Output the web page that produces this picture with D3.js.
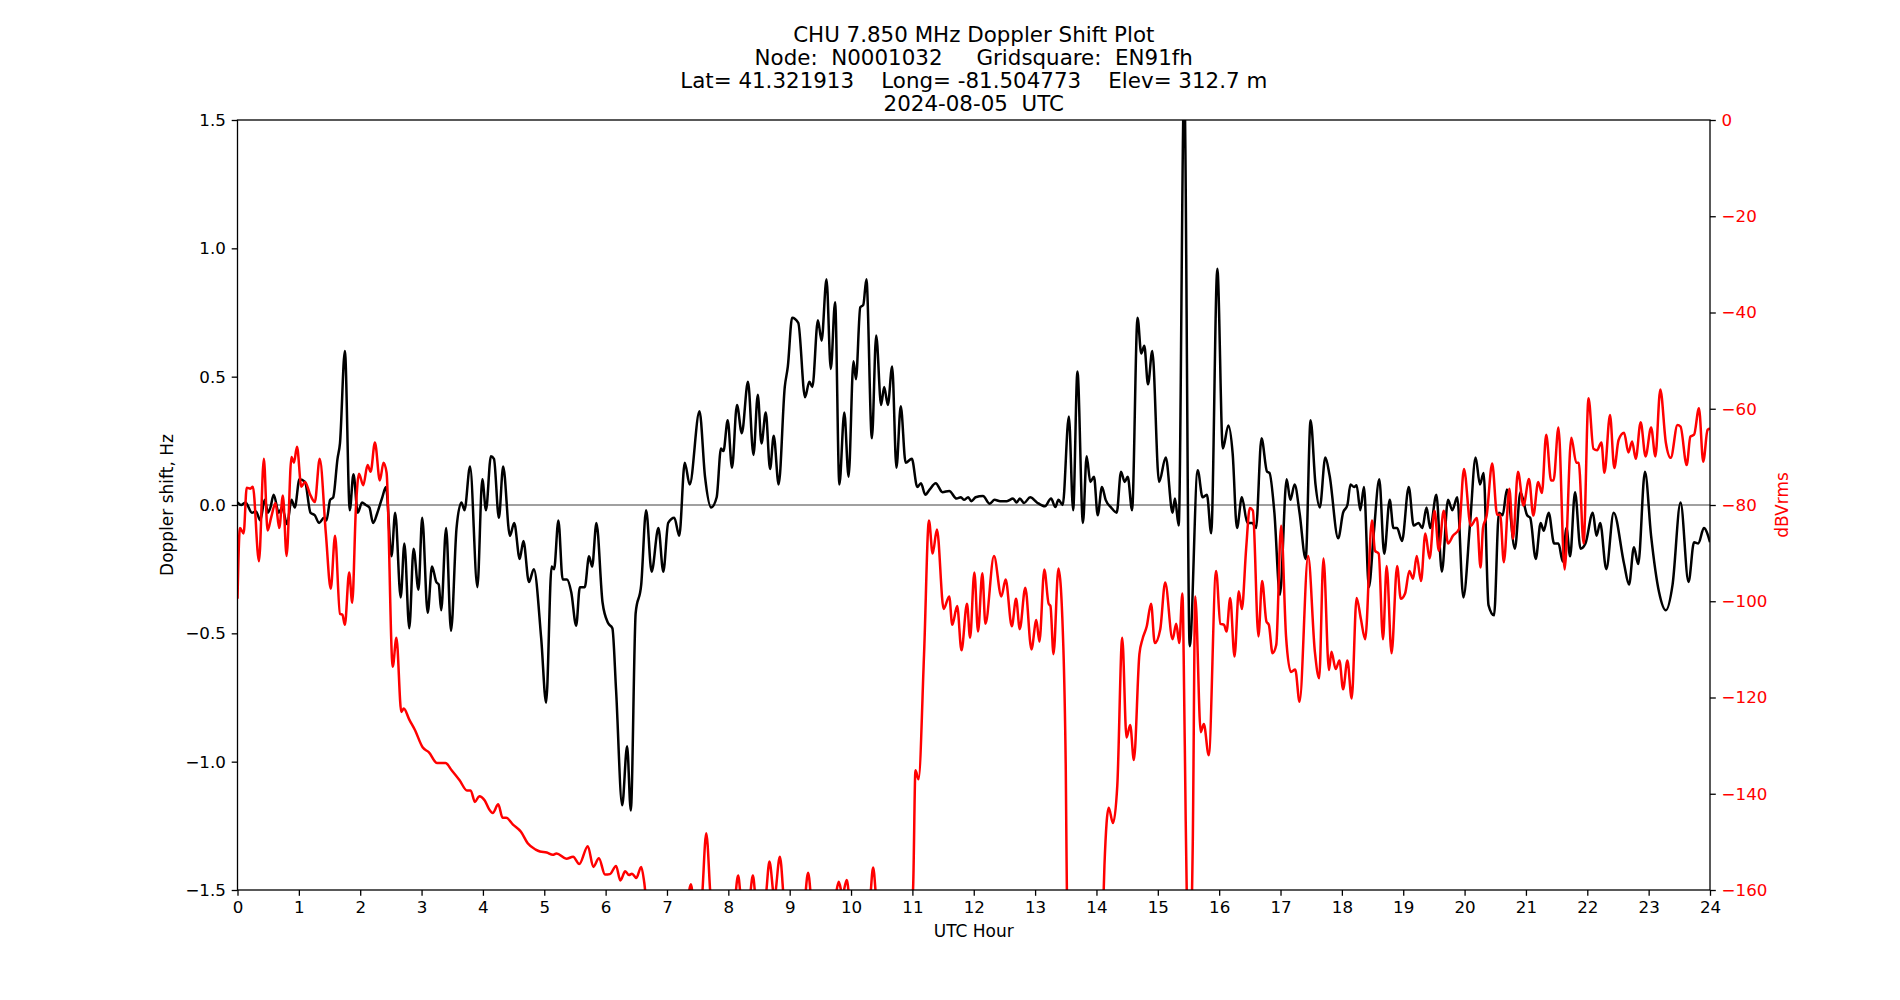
<!DOCTYPE html>
<html>
<head>
<meta charset="utf-8">
<script src="https://cdn.jsdelivr.net/npm/d3@7"></script>
<style>
  body { margin: 0; background: #fff; }
  text { font-family: "DejaVu Sans", sans-serif; }
</style>
</head>
<body>
<div id="chart"></div>
<script>
// title text
var titleLines = [
  "CHU 7.850 MHz Doppler Shift Plot",
  "Node:  N0001032     Gridsquare:  EN91fh",
  "Lat= 41.321913    Long= -81.504773    Elev= 312.7 m",
  "2024-08-05  UTC"
];

var hourTicks = [0,1,2,3,4,5,6,7,8,9,10,11,12,13,14,15,16,17,18,19,20,21,22,23,24];
var hzTicks = [-1.5,-1.0,-0.5,0.0,0.5,1.0,1.5];
var dbTicks = [-160,-140,-120,-100,-80,-60,-40,-20,0];

// [UTC hour, Doppler shift Hz]
var dopplerSeries = [
  [0.00,0.01],[0.06,0.00],[0.13,0.01],[0.235,-0.03],[0.30,-0.025],[0.372,-0.06],[0.443,0.02],[0.497,-0.03],
  [0.536,-0.01],[0.59,0.04],[0.672,-0.03],[0.727,-0.01],[0.809,-0.075],[0.88,0.02],[0.934,-0.01],[1.01,0.10],
  [1.10,0.09],[1.19,-0.03],[1.26,-0.04],[1.33,-0.07],[1.41,-0.05],[1.45,-0.06],[1.51,0.02],[1.56,0.03],
  [1.63,0.18],[1.67,0.24],[1.75,0.60],[1.83,-0.02],[1.89,0.12],[1.96,-0.03],[2.03,0.01],[2.09,0.00],
  [2.15,-0.01],[2.21,-0.07],[2.28,-0.03],[2.36,0.03],[2.42,0.07],[2.51,-0.20],[2.57,-0.03],[2.66,-0.36],
  [2.72,-0.15],[2.80,-0.48],[2.87,-0.17],[2.95,-0.33],[3.01,-0.05],[3.10,-0.42],[3.17,-0.24],[3.24,-0.30],
  [3.28,-0.31],[3.32,-0.41],[3.40,-0.09],[3.48,-0.49],[3.57,-0.09],[3.65,0.01],[3.70,-0.02],[3.79,0.15],
  [3.91,-0.32],[3.99,0.10],[4.05,-0.02],[4.13,0.19],[4.18,0.18],[4.26,-0.05],[4.33,0.15],[4.44,-0.12],
  [4.51,-0.07],[4.60,-0.21],[4.66,-0.14],[4.75,-0.30],[4.83,-0.25],[4.95,-0.52],[5.03,-0.77],[5.12,-0.24],
  [5.16,-0.25],[5.23,-0.06],[5.30,-0.29],[5.37,-0.29],[5.44,-0.34],[5.52,-0.47],[5.58,-0.32],[5.66,-0.32],
  [5.73,-0.20],[5.78,-0.24],[5.85,-0.07],[5.95,-0.38],[6.04,-0.46],[6.11,-0.48],[6.17,-0.72],[6.27,-1.17],
  [6.35,-0.94],[6.41,-1.19],[6.49,-0.42],[6.58,-0.31],[6.66,-0.02],[6.75,-0.26],[6.86,-0.09],[6.94,-0.26],
  [7.02,-0.07],[7.12,-0.05],[7.20,-0.12],[7.29,0.165],[7.37,0.08],[7.53,0.365],[7.62,0.11],[7.72,-0.01],
  [7.81,0.03],[7.88,0.22],[7.92,0.21],[7.99,0.33],[8.06,0.145],[8.14,0.39],[8.22,0.28],[8.32,0.48],
  [8.41,0.195],[8.48,0.43],[8.54,0.24],[8.61,0.36],[8.68,0.14],[8.74,0.27],[8.82,0.08],[8.92,0.46],
  [8.97,0.54],[9.04,0.73],[9.14,0.71],[9.25,0.42],[9.32,0.48],[9.37,0.46],[9.46,0.72],[9.52,0.64],
  [9.60,0.88],[9.67,0.53],[9.74,0.79],[9.81,0.08],[9.89,0.36],[9.96,0.11],[10.04,0.56],[10.08,0.49],
  [10.15,0.77],[10.20,0.78],[10.25,0.88],[10.34,0.26],[10.41,0.66],[10.49,0.39],[10.54,0.46],[10.60,0.39],
  [10.67,0.54],[10.74,0.145],[10.81,0.385],[10.89,0.165],[10.99,0.18],[11.08,0.07],[11.14,0.085],[11.21,0.04],
  [11.28,0.06],[11.38,0.085],[11.49,0.05],[11.60,0.055],[11.72,0.025],[11.79,0.03],[11.84,0.02],[11.91,0.03],
  [11.96,0.015],[12.03,0.03],[12.15,0.035],[12.26,0.005],[12.34,0.02],[12.43,0.015],[12.54,0.015],[12.64,0.025],
  [12.70,0.01],[12.75,0.025],[12.82,0.008],[12.92,0.03],[13.03,0.01],[13.16,-0.005],[13.26,0.025],[13.33,-0.008],
  [13.38,0.02],[13.45,0.00],[13.55,0.345],[13.62,-0.02],[13.69,0.52],[13.78,-0.07],[13.84,0.19],[13.90,0.09],
  [13.96,0.11],[14.02,-0.04],[14.09,0.07],[14.15,0.02],[14.24,-0.01],[14.33,-0.03],[14.40,0.13],[14.46,0.09],
  [14.51,0.11],[14.58,-0.02],[14.67,0.73],[14.73,0.59],[14.78,0.62],[14.84,0.47],[14.91,0.60],[15.02,0.09],
  [15.13,0.185],[15.24,-0.03],[15.28,0.025],[15.34,-0.08],[15.43,1.65],[15.52,-0.55],[15.65,0.135],[15.73,0.03],
  [15.80,0.04],[15.87,-0.11],[15.97,0.92],[16.06,0.22],[16.15,0.31],[16.22,0.20],[16.29,-0.09],[16.37,0.03],
  [16.46,-0.07],[16.54,-0.07],[16.60,-0.09],[16.69,0.26],[16.78,0.13],[16.82,0.125],[16.90,-0.03],[16.99,-0.35],
  [17.10,0.10],[17.16,0.02],[17.23,0.08],[17.31,-0.03],[17.41,-0.21],[17.49,0.33],[17.57,0.08],[17.64,-0.01],
  [17.73,0.185],[17.80,0.115],[17.94,-0.13],[18.02,-0.03],[18.09,0.00],[18.14,0.08],[18.20,0.07],[18.24,0.077],
  [18.30,-0.02],[18.36,0.07],[18.44,-0.32],[18.52,-0.11],[18.61,0.10],[18.69,-0.19],[18.78,0.02],[18.84,-0.09],
  [18.90,-0.09],[18.98,-0.14],[19.09,0.07],[19.17,-0.08],[19.25,-0.07],[19.31,-0.09],[19.38,-0.01],[19.44,-0.09],
  [19.54,0.04],[19.63,-0.26],[19.73,0.02],[19.80,-0.02],[19.88,0.03],[19.98,-0.36],[20.09,-0.07],[20.18,0.185],
  [20.25,0.08],[20.31,0.125],[20.39,-0.39],[20.48,-0.43],[20.56,-0.03],[20.62,-0.04],[20.69,0.06],[20.82,-0.17],
  [20.91,0.05],[21.02,-0.04],[21.07,-0.05],[21.16,-0.21],[21.24,-0.07],[21.29,-0.10],[21.37,-0.03],[21.46,-0.15],
  [21.53,-0.15],[21.60,-0.22],[21.66,-0.09],[21.72,-0.20],[21.80,0.05],[21.89,-0.17],[21.97,-0.15],[22.09,-0.03],
  [22.15,-0.12],[22.21,-0.07],[22.31,-0.25],[22.43,-0.03],[22.60,-0.23],[22.68,-0.31],[22.76,-0.165],[22.83,-0.23],
  [22.94,0.13],[23.04,-0.12],[23.17,-0.34],[23.28,-0.41],[23.39,-0.31],[23.52,0.01],[23.65,-0.30],[23.74,-0.145],
  [23.81,-0.15],[23.90,-0.09],[24.00,-0.145]
];

// [UTC hour, signal level dBVrms]; values under -160 fall off the bottom of the plot
var signalSeries = [
  [0.00,-99.5],[0.04,-84.8],[0.10,-85.9],[0.15,-76.4],[0.21,-76.6],[0.25,-76.2],[0.35,-91.7],[0.43,-70.4],
  [0.49,-85.3],[0.55,-82.5],[0.62,-79.6],[0.68,-84.8],[0.74,-78.0],[0.80,-90.6],[0.88,-70.0],[0.92,-71.2],
  [0.97,-67.9],[1.04,-76.2],[1.10,-75.2],[1.19,-78.0],[1.26,-79.4],[1.34,-70.4],[1.44,-85.9],[1.52,-97.4],
  [1.59,-86.4],[1.67,-102.6],[1.71,-102.8],[1.75,-104.9],[1.82,-94.0],[1.87,-100.3],[1.93,-80.6],[1.98,-73.5],
  [2.05,-75.9],[2.12,-71.7],[2.17,-73.1],[2.24,-67.0],[2.32,-74.9],[2.38,-71.2],[2.43,-73.3],[2.53,-113.6],
  [2.59,-107.6],[2.67,-123.0],[2.71,-122.3],[2.80,-124.6],[2.89,-126.7],[3.02,-130.4],[3.12,-131.4],[3.25,-133.6],
  [3.39,-133.6],[3.49,-135.1],[3.62,-137.2],[3.74,-139.3],[3.80,-139.3],[3.87,-141.7],[3.94,-140.5],[4.03,-141.4],
  [4.10,-143.2],[4.16,-144.0],[4.25,-142.2],[4.32,-145.0],[4.38,-145.0],[4.49,-146.4],[4.62,-147.9],[4.73,-150.3],
  [4.86,-151.6],[4.93,-152.0],[5.04,-152.2],[5.14,-152.7],[5.20,-152.4],[5.36,-153.5],[5.47,-153.1],[5.57,-154.6],
  [5.71,-150.9],[5.80,-155.2],[5.89,-153.4],[5.99,-156.8],[6.07,-156.7],[6.17,-155.0],[6.24,-158.0],[6.32,-156.1],
  [6.38,-156.9],[6.43,-156.6],[6.50,-157.5],[6.58,-155.2],[6.63,-158.5],[6.70,-167],[6.95,-172],[7.30,-166],
  [7.39,-158.8],[7.46,-166],[7.56,-163],[7.64,-148.2],[7.72,-163],[7.90,-172],[8.10,-163],[8.16,-157],
  [8.22,-163],[8.33,-163],[8.40,-157],[8.46,-163],[8.60,-162],[8.67,-154.1],[8.75,-161.5],[8.84,-153.1],
  [8.92,-164],[9.10,-170],[9.24,-163],[9.30,-156.4],[9.37,-164],[9.60,-168],[9.75,-161],[9.80,-158.3],
  [9.86,-161],[9.93,-157.9],[10.00,-165],[10.20,-168],[10.31,-162],[10.36,-155.3],[10.42,-163],[10.70,-172],
  [10.95,-165],[11.01,-160],[11.05,-135.1],[11.10,-137.0],[11.19,-111.0],[11.27,-83.2],[11.33,-90.1],[11.40,-85.1],
  [11.51,-101.6],[11.60,-99.0],[11.65,-104.9],[11.73,-101.0],[11.80,-110.2],[11.89,-100.5],[11.94,-107.6],[12.01,-94.0],
  [12.07,-106.3],[12.14,-94.2],[12.19,-104.7],[12.33,-90.6],[12.45,-99.0],[12.52,-95.5],[12.62,-105.2],[12.69,-99.5],
  [12.75,-105.8],[12.84,-97.2],[12.94,-110.0],[13.02,-103.9],[13.07,-108.4],[13.15,-93.4],[13.22,-100.5],[13.25,-101.0],
  [13.30,-111.0],[13.38,-93.2],[13.46,-109.4],[13.50,-135],[13.53,-175],[13.60,-190],[14.02,-190],[14.09,-172],
  [14.13,-155],[14.20,-142.9],[14.27,-146.1],[14.34,-138.2],[14.42,-107.6],[14.49,-128.3],[14.55,-125.7],[14.61,-133.0],
  [14.70,-111.0],[14.75,-107.9],[14.82,-105.2],[14.89,-100.5],[14.95,-108.7],[15.04,-105.8],[15.12,-96.1],[15.24,-107.9],
  [15.30,-104.7],[15.35,-108.7],[15.40,-98.4],[15.44,-130],[15.48,-168],[15.52,-175],[15.57,-150],[15.61,-99],
  [15.70,-127.2],[15.75,-125.5],[15.83,-132],[15.95,-93.7],[16.02,-104.7],[16.08,-104.9],[16.12,-106.3],[16.18,-99.3],
  [16.25,-111.5],[16.32,-97.9],[16.37,-101.6],[16.44,-89.0],[16.50,-80.6],[16.55,-81.2],[16.64,-107.3],[16.70,-95.8],
  [16.77,-104.2],[16.81,-104.9],[16.87,-110.8],[16.93,-109.1],[17.01,-84.3],[17.09,-107.3],[17.17,-114.7],[17.24,-114.2],
  [17.31,-120.9],[17.45,-90.6],[17.56,-110.5],[17.63,-116.0],[17.70,-91.1],[17.79,-114.3],[17.83,-110.5],[17.90,-114.1],
  [17.96,-112.3],[18.02,-118.3],[18.09,-112.3],[18.16,-120.2],[18.24,-99.3],[18.31,-103.7],[18.38,-107.9],[18.49,-83.2],
  [18.54,-89.5],[18.60,-90.1],[18.67,-107.9],[18.73,-92.7],[18.81,-110.8],[18.90,-92.7],[18.96,-99.5],[19.03,-98.4],
  [19.10,-93.7],[19.16,-95.3],[19.22,-90.6],[19.29,-95.8],[19.36,-85.9],[19.43,-91.1],[19.51,-81.2],[19.58,-89.5],
  [19.66,-81.2],[19.73,-88.0],[19.81,-86.4],[19.91,-85.0],[19.99,-72.5],[20.10,-84.3],[20.20,-82.7],[20.26,-93.0],
  [20.30,-84.8],[20.36,-82.2],[20.45,-71.4],[20.53,-82.0],[20.58,-82.0],[20.64,-91.9],[20.73,-76.6],[20.79,-87.0],
  [20.87,-73.1],[20.96,-80.1],[21.05,-74.6],[21.12,-82.2],[21.20,-75.2],[21.26,-77.5],[21.33,-65.4],[21.41,-74.9],
  [21.45,-74.9],[21.53,-63.9],[21.63,-93.4],[21.74,-66.0],[21.82,-71.2],[21.86,-71.2],[21.94,-88.0],[22.02,-57.8],
  [22.10,-68.3],[22.16,-68.6],[22.23,-67.0],[22.28,-73.3],[22.37,-61.3],[22.44,-72.3],[22.51,-66.5],[22.60,-65.0],
  [22.67,-69.1],[22.73,-66.8],[22.79,-70.4],[22.87,-62.8],[22.95,-69.9],[23.04,-63.9],[23.11,-69.9],[23.19,-56.0],
  [23.28,-67.0],[23.36,-70.2],[23.47,-63.4],[23.52,-63.7],[23.62,-71.7],[23.68,-65.8],[23.74,-65.4],[23.82,-59.9],
  [23.89,-71.0],[23.96,-64.4],[24.00,-64.1]
];

var width = 1900, height = 1000;
var plotLeft = 237.5, plotRight = 1710, plotTop = 120, plotBottom = 890;
var tickFont = 16.7;

var svg = d3.select("#chart").append("svg")
  .attr("width", width)
  .attr("height", height)
  .style("display", "block");

var x = d3.scaleLinear().domain([0, 24]).range([plotLeft, plotRight]);
var yHz = d3.scaleLinear().domain([-1.5, 1.5]).range([plotBottom, plotTop]);
var yDb = d3.scaleLinear().domain([-160, 0]).range([plotBottom, plotTop]);

svg.append("clipPath").attr("id", "plotclip")
  .append("rect")
  .attr("x", plotLeft).attr("y", plotTop)
  .attr("width", plotRight - plotLeft).attr("height", plotBottom - plotTop);

var plot = svg.append("g").attr("clip-path", "url(#plotclip)");

// zero reference line
plot.append("line")
  .attr("x1", plotLeft).attr("x2", plotRight)
  .attr("y1", yHz(0)).attr("y2", yHz(0))
  .style("stroke", "#808080")
  .style("stroke-width", 1.3);

var hzLine = d3.line()
  .x(function(d) { return x(d[0]); })
  .y(function(d) { return yHz(d[1]); })
  .curve(d3.curveMonotoneX);

var dbLine = d3.line()
  .x(function(d) { return x(d[0]); })
  .y(function(d) { return yDb(d[1]); })
  .curve(d3.curveMonotoneX);

plot.append("path")
  .datum(dopplerSeries)
  .attr("d", hzLine)
  .style("fill", "none")
  .style("stroke", "#000")
  .style("stroke-width", 2.5)
  .style("stroke-linejoin", "round");

plot.append("path")
  .datum(signalSeries)
  .attr("d", dbLine)
  .style("fill", "none")
  .style("stroke", "#ff0000")
  .style("stroke-width", 2.5)
  .style("stroke-linejoin", "round");

// axes
function styleAxis(g, color) {
  g.select(".domain").remove();
  g.selectAll(".tick line").style("stroke", "#000").style("stroke-width", 1.3);
  g.selectAll(".tick text")
    .style("font-family", "DejaVu Sans")
    .style("font-size", tickFont + "px")
    .style("fill", color);
}

svg.append("g")
  .attr("transform", "translate(0," + plotBottom + ")")
  .call(d3.axisBottom(x).tickValues(hourTicks).tickFormat(d3.format("d"))
    .tickSize(5.8).tickPadding(5.8))
  .call(styleAxis, "#000");

svg.append("g")
  .attr("transform", "translate(" + plotLeft + ",0)")
  .call(d3.axisLeft(yHz).tickValues(hzTicks).tickFormat(d3.format(".1f"))
    .tickSize(5.8).tickPadding(5.8))
  .call(styleAxis, "#000");

svg.append("g")
  .attr("transform", "translate(" + plotRight + ",0)")
  .call(d3.axisRight(yDb).tickValues(dbTicks).tickFormat(d3.format("d"))
    .tickSize(5.8).tickPadding(5.8))
  .call(styleAxis, "#ff0000");

// frame
svg.append("rect")
  .attr("x", plotLeft).attr("y", plotTop)
  .attr("width", plotRight - plotLeft).attr("height", plotBottom - plotTop)
  .style("fill", "none")
  .style("stroke", "#000")
  .style("stroke-width", 1.3);

// labels
svg.append("text")
  .attr("x", (plotLeft + plotRight) / 2).attr("y", 937)
  .attr("text-anchor", "middle")
  .style("font-size", "17px")
  .text("UTC Hour");

svg.append("text")
  .attr("transform", "translate(167," + (plotTop + plotBottom) / 2 + ") rotate(-90)")
  .attr("text-anchor", "middle")
  .attr("dy", "0.35em")
  .style("font-size", "17px")
  .text("Doppler shift, Hz");

svg.append("text")
  .attr("transform", "translate(1782," + (plotTop + plotBottom) / 2 + ") rotate(-90)")
  .attr("text-anchor", "middle")
  .attr("dy", "0.35em")
  .style("font-size", "17px")
  .style("fill", "#ff0000")
  .text("dBVrms");

svg.append("g").selectAll("text")
  .data(titleLines)
  .enter()
  .append("text")
  .attr("x", (plotLeft + plotRight) / 2)
  .attr("y", function(d, i) { return 42 + i * 23; })
  .attr("text-anchor", "middle")
  .style("font-size", "21.4px")
  .style("white-space", "pre")
  .text(function(d) { return d; });
</script>
</body>
</html>
